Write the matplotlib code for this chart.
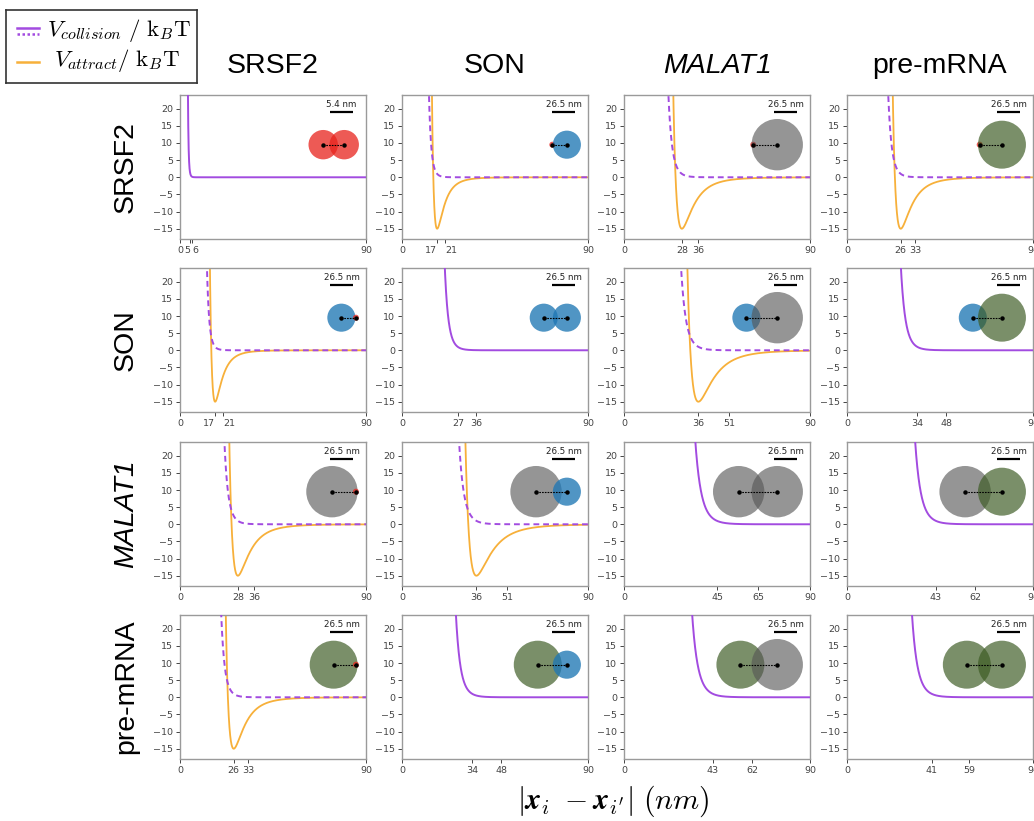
import numpy as np
import matplotlib.pyplot as plt
from matplotlib.patches import Circle

# species on rows / columns
species = ['SRSF2', 'SON', 'MALAT1', 'pre-mRNA']
title_style = ['normal', 'normal', 'italic', 'normal']

# x tick positions (nm): contact distance and second tick
contact_nm = [[5, 17, 28, 26],
              [17, 27, 36, 34],
              [28, 36, 45, 43],
              [26, 34, 43, 41]]
second_tick_nm = [[6, 21, 36, 33],
                  [21, 36, 51, 48],
                  [36, 51, 65, 62],
                  [33, 48, 62, 59]]
# 1 = pair has an attractive well (orange curve + dashed collision)
has_attract = [[0, 1, 1, 1],
               [1, 0, 1, 0],
               [1, 1, 0, 0],
               [1, 0, 0, 0]]
well_depth = 15.0
collision_power = 12

# cartoon of the two particles
radius_nm = [3.5, 16.4, 30.0, 28.0]
scale_bar_nm = [[5.4, 26.5, 26.5, 26.5],
                [26.5, 26.5, 26.5, 26.5],
                [26.5, 26.5, 26.5, 26.5],
                [26.5, 26.5, 26.5, 26.5]]
circle_colors = ['#e8231c', '#1f77b4', '#555555', '#3b5a22']
circle_alpha = [0.75, 0.78, 0.62, 0.68]

purple = '#a24be0'
orange = '#f7b03a'

W, H = 1034, 821
fig = plt.figure(figsize=(W / 100, H / 100), dpi=100)

col_left = [180, 402, 624, 847]
row_top = [95, 268, 442, 615]
ax_w, ax_h = 186, 144
bar_px = 22.7

r = np.linspace(0.5, 90, 3000)

for i in range(4):
    for j in range(4):
        ax = fig.add_axes([col_left[j] / W, 1 - (row_top[i] + ax_h) / H, ax_w / W, ax_h / H])
        a = contact_nm[i][j]
        b = second_tick_nm[i][j]
        v_col = (a / r) ** collision_power
        if has_attract[i][j]:
            v_att = well_depth * ((a / r) ** 12 - 2 * (a / r) ** 6)
            ax.plot(r, v_att, color=orange, lw=1.3, zorder=2)
            ax.plot(r, v_col, color=purple, lw=1.4, ls=(0, (3, 2)), zorder=3)
        else:
            ax.plot(r, v_col, color=purple, lw=1.4, zorder=3)
        ax.set_xlim(0, 90)
        ax.set_ylim(-18, 24)
        ax.set_yticks([-15, -10, -5, 0, 5, 10, 15, 20])
        ax.set_xticks([0, a, b, 90])
        labs = ax.set_xticklabels([0, a, b, 90])
        if b - a < 5:
            # close ticks get a smaller label, pushed to either side
            labs[1].set_fontsize(4.2)
            labs[2].set_fontsize(4.2)
            labs[1].set_horizontalalignment('right')
            labs[2].set_horizontalalignment('left')
        ax.tick_params(labelsize=6.8, colors='#444444', length=3, width=0.7, pad=2)
        for s in ax.spines.values():
            s.set_color('#9a9a9a')
            s.set_linewidth(1.0)

        # particle cartoon in nm units, same scale on both axes
        ppn = bar_px / scale_bar_nm[i][j]
        wn, hn = ax_w / ppn, ax_h / ppn
        ins = ax.inset_axes([0, 0, 1, 1])
        ins.set_xlim(0, wn)
        ins.set_ylim(0, hn)
        ins.axis('off')
        rl, rr = radius_nm[i], radius_nm[j]
        right_edge = max(rr, rl - a)
        xr = 0.962 * wn - right_edge
        xl = xr - a
        yc = 0.655 * hn
        ins.add_patch(Circle((xl, yc), rl, color=circle_colors[i], alpha=circle_alpha[i], lw=0))
        ins.add_patch(Circle((xr, yc), rr, color=circle_colors[j], alpha=circle_alpha[j], lw=0))
        ins.plot([xl, xr], [yc, yc], color='black', lw=0.8, ls=(0, (1.5, 1)))
        ins.plot([xl, xr], [yc, yc], 'o', color='black', ms=2.2, lw=0)
        sb = scale_bar_nm[i][j]
        bx1 = 0.93 * wn
        by = 0.884 * hn
        ins.plot([bx1 - sb, bx1], [by, by], color='black', lw=1.6, solid_capstyle='butt')
        ins.text(bx1 - sb / 2, by + 0.02 * hn, f'{sb} nm', ha='center', va='bottom',
                 fontsize=6.3, color='#222222')

# column titles and row labels
for k, name in enumerate(species):
    fig.text((col_left[k] + ax_w / 2) / W, 1 - 66 / H, name, ha='center', va='center',
             fontsize=20.5, family='Liberation Sans', style=title_style[k])
    fig.text(126 / W, 1 - (row_top[k] + ax_h / 2) / H, name, ha='center', va='center',
             rotation=90, fontsize=20.5, family='Liberation Sans', style=title_style[k])

fig.text(613 / W, 1 - 801 / H, r'$|\mathbfit{x}_i\ -\mathbfit{x}_{i^{\prime}}|\ (nm)$',
         ha='center', va='center', fontsize=21.5, math_fontfamily='cm')

# legend box drawn by hand (two-line handle for the collision term)
lax = fig.add_axes([6 / W, 1 - 83 / H, 191 / W, 73 / H])
lax.set_xlim(0, 191)
lax.set_ylim(73, 0)
lax.set_xticks([])
lax.set_yticks([])
for s in lax.spines.values():
    s.set_color('#333333')
    s.set_linewidth(1.2)
lax.plot([11, 33], [18, 18], color=purple, lw=1.8)
lax.plot([11, 33], [24, 24], color=purple, lw=1.8, ls=(0, (1, 1)))
lax.plot([11, 33], [52, 52], color=orange, lw=1.8)
lax.text(41, 21, r'$V_{collision}\ /\ \mathrm{k}_{B}\mathrm{T}$', ha='left', va='center',
         fontsize=16.5, math_fontfamily='cm')
lax.text(48, 51, r'$V_{attract}/\ \mathrm{k}_{B}\mathrm{T}$', ha='left', va='center',
         fontsize=16.5, math_fontfamily='cm')

fig.savefig('out.png', dpi=100)
